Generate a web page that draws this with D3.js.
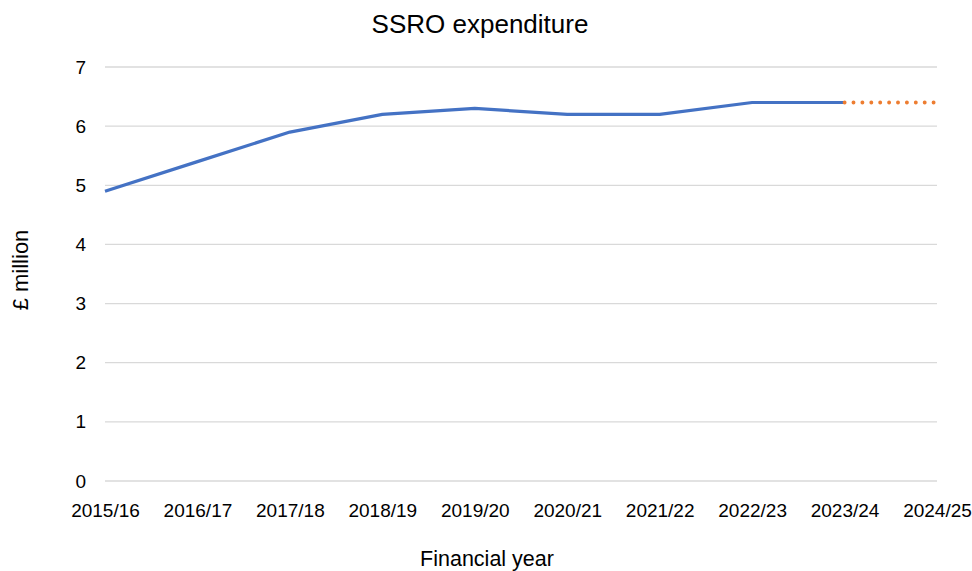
<!DOCTYPE html>
<html>
<head>
<meta charset="utf-8">
<script src="https://cdn.jsdelivr.net/npm/d3@7"></script>
<style>
  body { margin: 0; background: #fff; }
  text { font-family: "Liberation Sans", Arial, sans-serif; fill: #000; }
</style>
</head>
<body>
<svg width="972" height="571"></svg>
<script>
// SSRO expenditure, £ million by financial year
var years = ["2015/16", "2016/17", "2017/18", "2018/19", "2019/20",
             "2020/21", "2021/22", "2022/23", "2023/24", "2024/25"];
var actual = [4.9, 5.4, 5.9, 6.2, 6.3, 6.2, 6.2, 6.4, 6.4];
var forecastYears = ["2023/24", "2024/25"];
var forecast = [6.4, 6.4];
var yTicks = [0, 1, 2, 3, 4, 5, 6, 7];

var svg = d3.select("svg");
var plotLeft = 105, plotRight = 937, plotTop = 67, plotBottom = 481;

var x = d3.scalePoint().domain(years).range([plotLeft, plotRight]);
var y = d3.scaleLinear().domain([0, 7]).range([plotBottom, plotTop]);

// gridlines
svg.append("g")
  .selectAll("line")
  .data(yTicks)
  .enter().append("line")
    .attr("x1", plotLeft)
    .attr("x2", plotRight)
    .attr("y1", function(d){ return y(d); })
    .attr("y2", function(d){ return y(d); })
    .attr("stroke", "#d9d9d9")
    .attr("stroke-width", 1.3);

// y axis labels
var yAxis = svg.append("g")
  .attr("transform", "translate(" + (plotLeft - 19) + ",0)")
  .call(d3.axisLeft(y).tickValues(yTicks).tickFormat(d3.format("d"))
    .tickSize(0).tickPadding(0));
yAxis.select(".domain").remove();
yAxis.selectAll("text")
  .attr("font-size", "19px")
  .attr("font-family", "Liberation Sans, Arial, sans-serif")
  .attr("fill", "#000");

// x axis labels
var xAxis = svg.append("g")
  .attr("transform", "translate(0," + (plotBottom + 22) + ")")
  .call(d3.axisBottom(x).tickSize(0).tickPadding(0));
xAxis.select(".domain").remove();
xAxis.selectAll("text")
  .attr("font-size", "19px")
  .attr("font-family", "Liberation Sans, Arial, sans-serif")
  .attr("fill", "#000");

// actual line
var line = d3.line()
  .x(function(d){ return x(d[0]); })
  .y(function(d){ return y(d[1]); });

svg.append("path")
  .datum(actual.map(function(v, i){ return [years[i], v]; }))
  .attr("d", line)
  .attr("fill", "none")
  .attr("stroke", "#4472C4")
  .attr("stroke-width", 3.2)
  .attr("stroke-linejoin", "round");

// forecast dotted line
svg.append("path")
  .datum(forecast.map(function(v, i){ return [forecastYears[i], v]; }))
  .attr("d", line)
  .attr("fill", "none")
  .attr("stroke", "#ED7D31")
  .attr("stroke-width", 3.8)
  .attr("stroke-linecap", "round")
  .attr("stroke-dasharray", "0.1 8.8");

// titles
svg.append("text")
  .attr("x", 480)
  .attr("y", 33)
  .attr("text-anchor", "middle")
  .attr("font-size", "26px")
  .text("SSRO expenditure");

svg.append("text")
  .attr("transform", "translate(28,270) rotate(-90)")
  .attr("text-anchor", "middle")
  .attr("font-size", "22px")
  .text("£ million");

svg.append("text")
  .attr("x", 487)
  .attr("y", 566)
  .attr("text-anchor", "middle")
  .attr("font-size", "21.5px")
  .text("Financial year");
</script>
</body>
</html>
